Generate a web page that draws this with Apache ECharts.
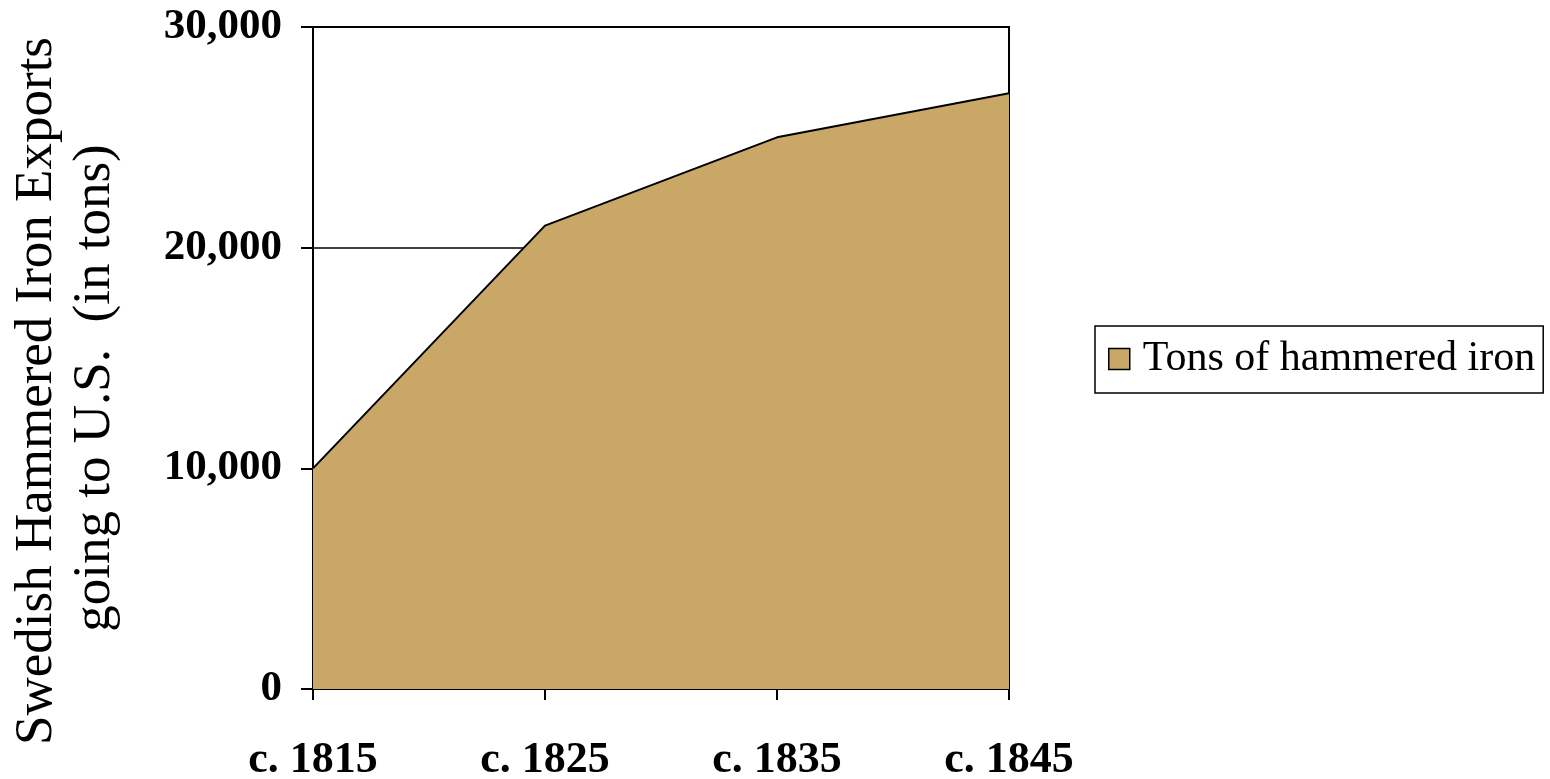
<!DOCTYPE html>
<html>
<head>
<meta charset="utf-8">
<script src="https://cdn.jsdelivr.net/npm/echarts@6/dist/echarts.min.js"></script>
<style>
html,body{margin:0;padding:0;background:#fff;}
#chart{width:1550px;height:779px;}
</style>
</head>
<body>
<div id="chart"></div>
<script>
const categories = ['c. 1815', 'c. 1825', 'c. 1835', 'c. 1845'];
const tonsValues = [10000, 21000, 25000, 27000];
const seriesName = 'Tons of hammered iron';
const yTitleLines = ['Swedish Hammered Iron Exports', 'going to U.S.  (in tons)'];

const chart = echarts.init(document.getElementById('chart'));
const FONT = '"Liberation Serif", "Times New Roman", serif';
chart.setOption({
  backgroundColor: '#ffffff',
  animation: false,
  grid: {
    left: 313, right: 541, top: 27, bottom: 90,
    containLabel: false,
    outerBoundsMode: 'none',
    show: true, borderColor: '#000', borderWidth: 2, backgroundColor: 'transparent'
  },
  legend: {
    show: true,
    left: 1095, top: 326,
    orient: 'vertical',
    data: [seriesName],
    icon: 'rect',
    itemWidth: 21, itemHeight: 21,
    borderColor: '#000', borderWidth: 1.5,
    padding: [12, 8, 13, 13],
    itemStyle: { borderColor: '#000', borderWidth: 1.5 },
    textStyle: { fontFamily: FONT, fontSize: 42, color: '#000', padding: [0, 0, 0, 8] }
  },
  graphic: [
    {
      type: 'text', x: 37, y: 391, rotation: Math.PI / 2,
      style: { text: yTitleLines[0], font: '53px ' + FONT, fill: '#000', align: 'center', verticalAlign: 'middle' }
    },
    {
      type: 'text', x: 95, y: 388, rotation: Math.PI / 2,
      style: { text: yTitleLines[1], font: '53px ' + FONT, fill: '#000', align: 'center', verticalAlign: 'middle' }
    }
  ],
  xAxis: {
    type: 'category',
    data: categories,
    boundaryGap: false,
    axisLine: { show: true, lineStyle: { color: '#000', width: 2 } },
    axisTick: { show: true, alignWithLabel: true, length: 11, lineStyle: { color: '#000', width: 2 } },
    axisLabel: { fontFamily: FONT, fontSize: 44, fontWeight: 'bold', color: '#000', margin: 50 },
    splitLine: { show: false }
  },
  yAxis: {
    type: 'value',
    min: 0, max: 30000, interval: 10000,
    axisLine: { show: true, lineStyle: { color: '#000', width: 2 } },
    axisTick: { show: true, length: 12, lineStyle: { color: '#000', width: 2 } },
    axisLabel: {
      fontFamily: FONT, fontSize: 43, fontWeight: 'bold', color: '#000', margin: 31,
      formatter: v => v.toLocaleString('en-US')
    },
    splitLine: { show: true, lineStyle: { color: '#000', width: 1.5 } }
  },
  series: [{
    name: seriesName,
    type: 'line',
    data: tonsValues,
    symbol: 'none',
    lineStyle: { color: '#000', width: 2 },
    itemStyle: { color: '#C9A766', borderColor: '#000', borderWidth: 1.5 },
    areaStyle: { color: '#C9A766', opacity: 1 },
    z: 3
  }]
});
</script>
</body>
</html>
